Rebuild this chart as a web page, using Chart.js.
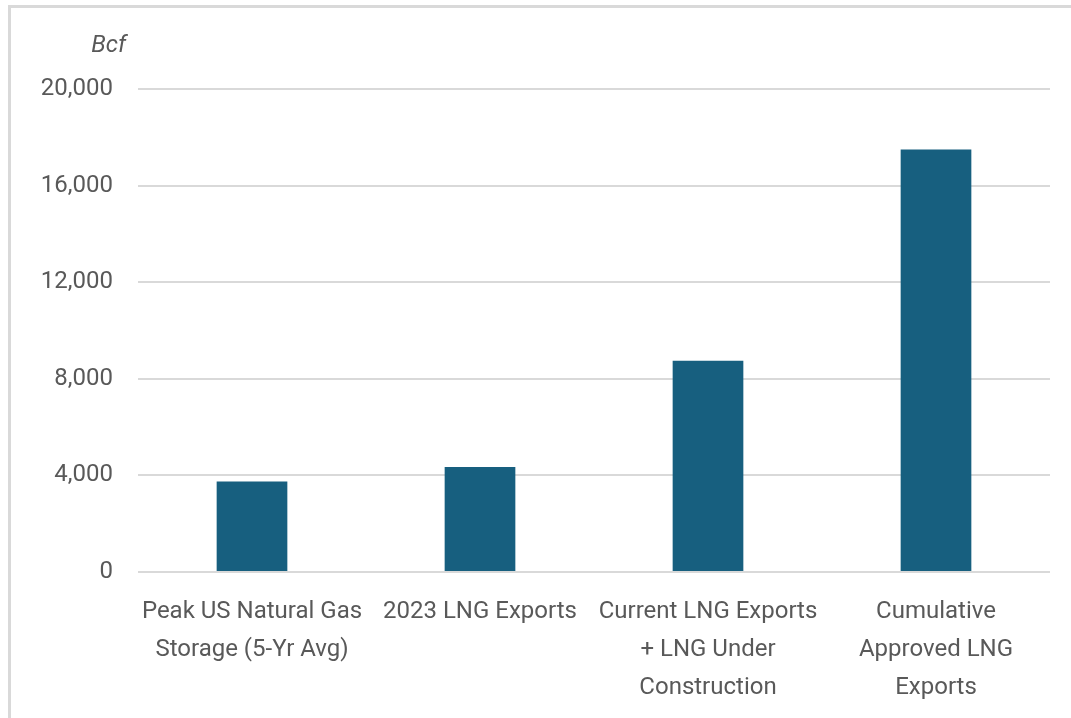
<!DOCTYPE html>
<html>
<head>
<meta charset="utf-8">
<script src="https://cdn.jsdelivr.net/npm/chart.js@4/dist/chart.umd.min.js"></script>
<style>
    body { margin: 0; background: #fff; overflow: hidden; }
    #frame {
        position: absolute; left: 8px; top: 5px;
        width: 1100px; height: 800px;
        border: 3px solid #d9d9d9;
    }
    #myChart { position: absolute; left: 0; top: 0; }
</style>
</head>
<body>
<div id="frame"></div>
<canvas id="myChart" width="1071" height="718"></canvas>
<script>
    // Data-----
    const categories = [
        ['Peak US Natural Gas', 'Storage (5-Yr Avg)'],
        ['2023 LNG Exports'],
        ['Current LNG Exports', '+ LNG Under', 'Construction'],
        ['Cumulative', 'Approved LNG', 'Exports']
    ];
    const volumes = [3750, 4350, 8750, 17500];
    const unitLabel = 'Bcf';
    // Data-----

    const textColor = '#595959';
    const gridColor = '#d9d9d9';
    const fontFamily = 'Roboto, "Liberation Sans", sans-serif';

    // draws the "Bcf" unit above the axis
    const unitPlugin = {
        id: 'unitLabel',
        afterDraw(chart) {
            const ctx = chart.ctx;
            ctx.save();
            ctx.font = 'italic 24px ' + fontFamily;
            ctx.fillStyle = textColor;
            ctx.textAlign = 'right';
            ctx.textBaseline = 'middle';
            ctx.fillText(unitLabel, chart.chartArea.left - 12, 46);
            ctx.restore();
        }
    };

    // Config-----
    const config = {
        type: 'bar',
        data: {
            labels: categories,
            datasets: [{
                data: volumes,
                backgroundColor: '#175f7f',
                borderWidth: 0,
                categoryPercentage: 1,
                barPercentage: 0.31
            }]
        },
        options: {
            responsive: false,
            animation: false,
            layout: {
                padding: {left: 0, top: 89, right: 21, bottom: 0}
            },
            plugins: {
                legend: false,
                tooltip: {enabled: false}
            },
            scales: {
                x: {
                    grid: {display: false},
                    border: {display: false},
                    ticks: {
                        color: textColor,
                        font: {family: fontFamily, size: 24, lineHeight: 1.58},
                        padding: 13,
                        maxRotation: 0,
                        autoSkip: false
                    },
                    afterFit(scale) {
                        scale.height = 146;
                    }
                },
                y: {
                    min: 0,
                    max: 20000,
                    grid: {
                        color: gridColor,
                        lineWidth: 2,
                        drawTicks: false
                    },
                    border: {display: false},
                    ticks: {
                        stepSize: 4000,
                        color: textColor,
                        font: {family: fontFamily, size: 24},
                        padding: 25,
                        callback: (v) => v.toLocaleString('en-US')
                    },
                    afterFit(scale) {
                        scale.width = 138;
                    }
                }
            }
        },
        plugins: [unitPlugin]
    };
    // Config-----

    var myChart = new Chart(
        document.getElementById('myChart'),
        config
    );
</script>
</body>
</html>
